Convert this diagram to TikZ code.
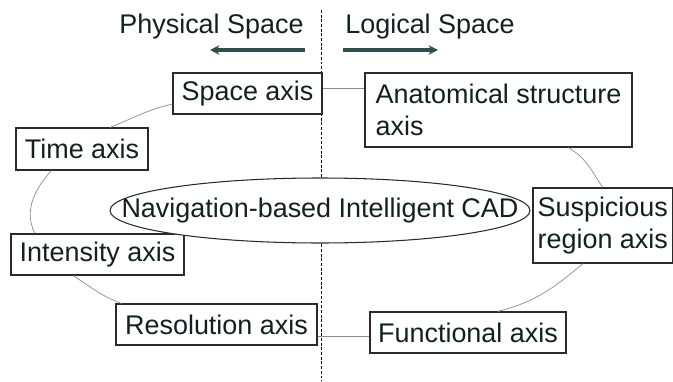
\documentclass[tikz,border=0pt]{standalone}
\usepackage{fontspec}
\setmainfont{Liberation Sans}
\usepackage{tikz}
\usetikzlibrary{arrows.meta,shapes.geometric,calc}
\definecolor{axtext}{HTML}{142020}
\definecolor{axline}{HTML}{2A2A2A}
\definecolor{axgray}{HTML}{8C8C8C}
\definecolor{axteal}{HTML}{2F4F4A}

\begin{document}
\begin{tikzpicture}[
  x=0.03cm, y=0.03cm,
  font=\fontsize{23}{27.3}\selectfont,
  axisbox/.style={rectangle, draw=axline, fill=white, line width=0.9pt,
              text=axtext, inner sep=2pt, minimum height=1.23cm},
  hubnode/.style={ellipse, draw=axline, fill=white, line width=0.9pt,
              text=axtext, inner sep=0pt, minimum width=12.6cm, minimum height=1.95cm},
  spacelabel/.style={anchor=base, text=axtext},
  dirarrow/.style={-{Stealth[length=8pt,width=8pt]}, line width=2.8pt, axteal},
  divider/.style={dash pattern=on 2.5pt off 1.5pt, line width=0.8pt, black},
  link/.style={draw=axgray, line width=0.6pt},
]
\useasboundingbox (0,0) rectangle (673,381);

% Divider between the two spaces
\coordinate (divtop) at (321,371);
\coordinate (divbot) at (321,0);
\draw[divider] (divtop) -- (divbot);

% Space labels and directions
\node[spacelabel] (physical) at (211.5,348) {Physical Space};
\node[spacelabel] (logical) at (430,348) {Logical Space};
\coordinate (physfrom) at (305,331);
\coordinate (physto) at (210,331);
\coordinate (logfrom) at (343,331);
\coordinate (logto) at (438,331);
\draw[dirarrow] (physfrom) -- (physto);
\draw[dirarrow] (logfrom) -- (logto);

% Physical axes
\node[axisbox, minimum width=4.47cm] (spaceax) at (247.5,287.5) {Space axis};
\node[axisbox, minimum width=3.96cm, minimum height=1.26cm] (timeax) at (82,232) {Time axis};
\node[axisbox, minimum width=5.19cm] (intensax) at (97.5,126.5) {Intensity axis};
\node[axisbox, minimum width=6.03cm] (resolax) at (216.5,56.5) {Resolution axis};

% Logical axes
\node[axisbox, minimum width=8.01cm, minimum height=2.22cm, align=left] (anatax) at (498.5,271) {Anatomical structure\\axis};
\node[axisbox, minimum width=4.185cm, minimum height=2.25cm, align=left] (suspax) at (602.75,155.5) {Suspicious\\region axis};
\node[axisbox, minimum width=5.88cm] (funcax) at (468,48.5) {Functional axis};

% Centre
\node[hubnode] (cad) at (320,170.5) {\makebox[0pt]{Navigation-based Intelligent CAD}};

% Ring of links
\coordinate (sa) at ($(spaceax.east)+(0,5)$);
\draw[link] (sa) -- (sa -| anatax.west);
\coordinate (rf) at ($(resolax.east)+(0,-12)$);
\draw[link] (rf) -- (rf -| funcax.west);
\draw[link] ($(spaceax.south west)!0.25!(spaceax.north west)$) to[out=193,in=22] ($(timeax.north west)!0.71!(timeax.north east)$);
\draw[link] ($(timeax.south west)!0.27!(timeax.south east)$) to[out=228,in=116] ($(intensax.north west)!0.14!(intensax.north east)$);
\draw[link] ($(intensax.south west)!0.36!(intensax.south east)$) to[out=327,in=160] ($(resolax.north west)!0.03!(resolax.north east)$);
\draw[link] ($(anatax.south west)!0.76!(anatax.south east)$) to[out=330,in=124] (suspax.north);
\draw[link] ($(suspax.south west)!0.36!(suspax.south east)$) to[out=220,in=14] ($(funcax.north west)!0.65!(funcax.north east)$);

\end{tikzpicture}
\end{document}
